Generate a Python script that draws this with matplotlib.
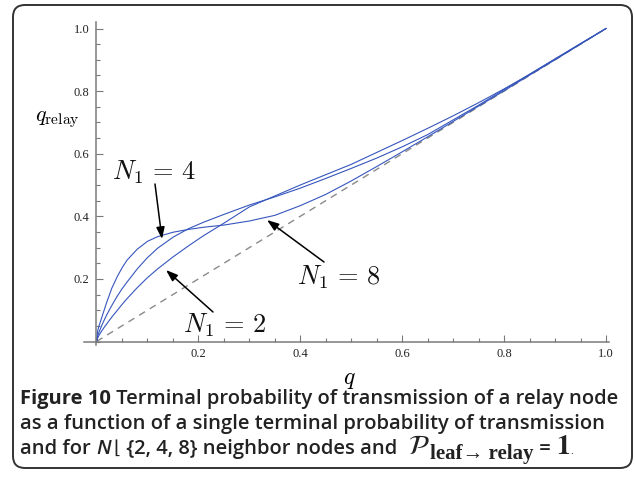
import matplotlib
matplotlib.use("Agg")
import matplotlib.pyplot as plt
from matplotlib.patches import FancyBboxPatch
from matplotlib.transforms import IdentityTransform
from matplotlib.ticker import FixedLocator, MultipleLocator

# values
q = [0.0, 0.0025, 0.005, 0.01, 0.015, 0.02, 0.03, 0.04, 0.05, 0.06, 0.08,
     0.10, 0.12, 0.15, 0.18, 0.21, 0.25, 0.30, 0.35, 0.40, 0.45, 0.50,
     0.55, 0.60, 0.65, 0.70, 0.75, 0.80, 0.85, 0.90, 0.95, 1.0]
relay_n8 = [0.0, 0.035, 0.05, 0.075, 0.1, 0.125, 0.17, 0.205, 0.235, 0.26, 0.295,
            0.32, 0.335, 0.349, 0.358, 0.365, 0.372, 0.385, 0.403, 0.434, 0.470, 0.513,
            0.559, 0.606, 0.654, 0.703, 0.752, 0.801, 0.851, 0.90, 0.95, 1.0]
relay_n4 = [0.0, 0.02, 0.03, 0.05, 0.068, 0.085, 0.115, 0.143, 0.168, 0.19, 0.232,
            0.268, 0.298, 0.333, 0.36, 0.381, 0.406, 0.436, 0.462, 0.49, 0.521, 0.553,
            0.586, 0.622, 0.661, 0.708, 0.755, 0.805, 0.854, 0.903, 0.952, 1.0]
relay_n2 = [0.0, 0.012, 0.02, 0.033, 0.045, 0.056, 0.078, 0.098, 0.118, 0.137, 0.172,
            0.204, 0.232, 0.27, 0.305, 0.338, 0.378, 0.43, 0.465, 0.50, 0.533, 0.566,
            0.604, 0.642, 0.681, 0.721, 0.763, 0.807, 0.853, 0.902, 0.951, 1.0]
diag_q = [0.0, 1.0]
diag_y = [0.0, 1.0]
tick_vals = [0.2, 0.4, 0.6, 0.8, 1.0]
tick_labels = ["0.2", "0.4", "0.6", "0.8", "1.0"]

W, H = 635, 478
fig = plt.figure(figsize=(W / 100, H / 100), dpi=100)
fig.patch.set_facecolor("white")

# axes placed so that (0,0) and (1,1) land where they are in the picture
x0px, x1px = 96.5, 606.0
y0px, y1px = 341.5, 28.5
xlim = (-0.025, 1.005)
ylim = (-0.012, 1.02)
ux = x1px - x0px
uy = y0px - y1px
left = (x0px + xlim[0] * ux) / W
width = (xlim[1] - xlim[0]) * ux / W
bottom = (H - (y0px - ylim[0] * uy)) / H
height = (ylim[1] - ylim[0]) * uy / H
ax = fig.add_axes([left, bottom, width, height])
ax.set_xlim(*xlim)
ax.set_ylim(*ylim)
ax.patch.set_alpha(0)

axis_col = "#7a7a7a"
for side in ["top", "right"]:
    ax.spines[side].set_visible(False)
for side in ["left", "bottom"]:
    ax.spines[side].set_position(("data", 0))
    ax.spines[side].set_color(axis_col)
    ax.spines[side].set_linewidth(1.1)

ax.xaxis.set_major_locator(FixedLocator(tick_vals))
ax.yaxis.set_major_locator(FixedLocator(tick_vals))
ax.xaxis.set_minor_locator(MultipleLocator(0.05))
ax.yaxis.set_minor_locator(MultipleLocator(0.05))
ax.set_xticklabels(tick_labels)
ax.set_yticklabels(tick_labels)
ax.tick_params(which="both", direction="in", color=axis_col, width=0.8)
ax.tick_params(which="major", length=5, labelsize=9, labelcolor="#222222", pad=5)
ax.tick_params(which="minor", length=3)
for lab in ax.get_xticklabels() + ax.get_yticklabels():
    lab.set_fontfamily("Liberation Serif")

blue = "#3656bd"
ax.plot(diag_q, diag_y, color="#8a8a8a", lw=1.0, dashes=(5, 4))
ax.plot(q, relay_n2, color=blue, lw=0.8)
ax.plot(q, relay_n4, color=blue, lw=0.8)
ax.plot(q, relay_n8, color=blue, lw=0.8)

plt.rcParams["mathtext.fontset"] = "cm"


def dpt(x, y):
    return (x - x0px) / ux, (y0px - y) / uy


arrow_kw = dict(arrowstyle="-|>,head_length=0.7,head_width=0.25", color="black", lw=1.1,
                shrinkA=0, shrinkB=0)
labels = [(r"$N_1\,=\,4$", (112, 180), (155, 184), (162, 239)),
          (r"$N_1\,=\,8$", (297, 285), (324, 262), (267, 220)),
          (r"$N_1\,=\,2$", (183, 333), (213, 312), (166, 270))]
for txt, pos, tail, tip in labels:
    ax.text(*dpt(*pos), txt, fontsize=19, ha="left", va="baseline", color="#111111")
    ax.annotate("", xy=dpt(*tip), xytext=dpt(*tail), arrowprops=arrow_kw)

fig.text(57 / W, 1 - 120 / H, r"$q_{\mathrm{relay}}$", fontsize=16, ha="center", va="center")
fig.text(349 / W, 1 - 379 / H, r"$q$", fontsize=17, ha="center", va="center")

# caption
fig.canvas.draw()
rend = fig.canvas.get_renderer()
cap_col = "#222222"
sans = ["Open Sans", "DejaVu Sans"]
serif = ["Liberation Serif", "DejaVu Serif"]


def put(x, y, s, **kw):
    t = fig.text(x / W, 1 - y / H, s, ha="left", va="baseline", color=cap_col, **kw)
    return x + t.get_window_extent(rend).width


cs = 14.5
x = put(20, 404, "Figure 10", family=sans, weight="bold", fontsize=cs)
put(x, 404, " Terminal probability of transmission of a relay node", family=sans,
    weight="semibold", fontsize=cs)
put(20, 429, "as a function of a single terminal probability of transmission", family=sans,
    weight="semibold", fontsize=cs)
x = put(20, 454, "and for ", family=sans, weight="semibold", fontsize=cs)
x = put(x, 454, "N", family=sans, weight="semibold", style="italic", fontsize=cs)
x = put(x + 3, 454, "\u230a", family=["DejaVu Sans"], fontsize=cs - 1)
x = put(x, 454, " {2, 4, 8} neighbor nodes and  ", family=sans, weight="semibold",
        fontsize=cs)
x = put(x, 454, r"$\mathcal{P}$", fontsize=20, math_fontfamily="stix")
x = put(x + 1, 459, "leaf\u2192 relay", family=serif, weight="bold", fontsize=15)
x = put(x, 454, " = ", family=sans, weight="semibold", fontsize=cs)
x = put(x, 454, r"$\mathbf{1}$", fontsize=20, math_fontfamily="stix")
put(x, 454, ".", family=sans, fontsize=7)

frame = FancyBboxPatch((13, H - 468), 619, 463, boxstyle="round,pad=0,rounding_size=12",
                       transform=IdentityTransform(), facecolor="none",
                       edgecolor="#333333", lw=1.4)
fig.add_artist(frame)

fig.savefig("out.png", dpi=100)
